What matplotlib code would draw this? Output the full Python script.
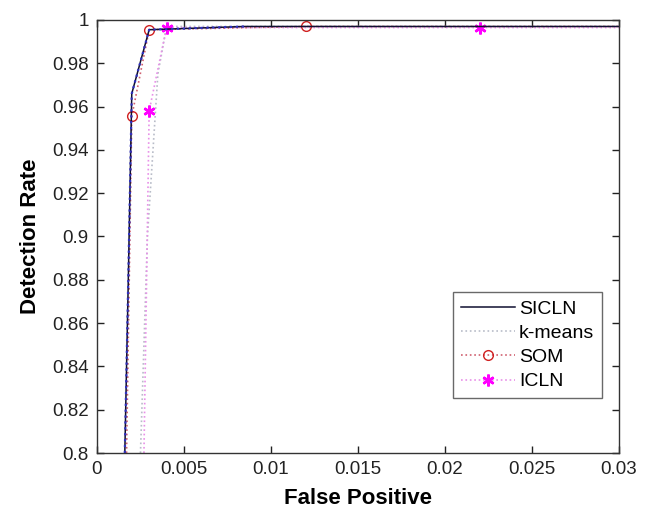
import matplotlib
matplotlib.use("Agg")
import matplotlib.pyplot as plt

plt.rcParams['font.family'] = ['Liberation Sans', 'DejaVu Sans']

# ROC-style curves: false positive rate vs detection rate
sicln_fp = [0.0016, 0.0018, 0.0020, 0.0030, 0.0085, 0.0300]
sicln_dr = [0.800, 0.880, 0.966, 0.9955, 0.997, 0.997]

kmeans_fp = [0.0025, 0.0029, 0.0035, 0.0040, 0.0300]
kmeans_dr = [0.800, 0.900, 0.975, 0.997, 0.997]

som_fp = [0.0017, 0.0020, 0.0030, 0.0120, 0.0300]
som_dr = [0.800, 0.9555, 0.9955, 0.997, 0.997]
som_marks = [1, 2, 3]

icln_fp = [0.0027, 0.0030, 0.0040, 0.0220, 0.0300]
icln_dr = [0.800, 0.958, 0.9965, 0.9965, 0.9965]
icln_marks = [1, 2, 3]

xticks = [0, 0.005, 0.01, 0.015, 0.02, 0.025, 0.03]
xticklabels = ['0', '0.005', '0.01', '0.015', '0.02', '0.025', '0.03']
yticks = [0.8, 0.82, 0.84, 0.86, 0.88, 0.9, 0.92, 0.94, 0.96, 0.98, 1.0]
yticklabels = ['0.8', '0.82', '0.84', '0.86', '0.88', '0.9', '0.92', '0.94', '0.96', '0.98', '1']

fig = plt.figure(figsize=(6.66, 5.12), dpi=100)
ax = fig.add_axes([0.1456, 0.1152, 0.7838, 0.8458])

asterisk = (6, 2, 0)

ax.plot(kmeans_fp, kmeans_dr, ':', color='#b8bcc8', lw=1.2, label='k-means')
ax.plot(icln_fp, icln_dr, ':', color='#e890e8', lw=1.2, marker=asterisk,
        markevery=icln_marks, ms=8.5, mew=1.8, mec='#ff00ff', mfc='#ff00ff',
        label='ICLN')
ax.plot(som_fp, som_dr, ':', color='#d06070', lw=1.2, marker='o',
        markevery=som_marks, ms=7, mew=1.0, mec='#d02020', mfc='none',
        label='SOM')
ax.plot(sicln_fp, sicln_dr, '-', color='#101030', lw=1.1, label='SICLN')
ax.plot(sicln_fp[:5], sicln_dr[:5], ':', color='#3030c0', lw=1.6)

ax.set_xlim(0, 0.03)
ax.set_ylim(0.8, 1.0)
ax.set_xticks(xticks)
ax.set_xticklabels(xticklabels)
ax.set_yticks(yticks)
ax.set_yticklabels(yticklabels)
ax.tick_params(direction='in', top=True, right=True, length=5, width=1,
               labelsize=13.5, colors='#222222', pad=6)
for s in ax.spines.values():
    s.set_color('#333333')
    s.set_linewidth(1.0)

ax.set_xlabel('False Positive', fontsize=16, fontweight='bold', labelpad=7)
ax.set_ylabel('Detection Rate', fontsize=16, fontweight='bold', labelpad=8)

handles, labels = ax.get_legend_handles_labels()
order = ['SICLN', 'k-means', 'SOM', 'ICLN']
hmap = dict(zip(labels, handles))
leg = ax.legend([hmap[k] for k in order], order, loc='lower right',
                bbox_to_anchor=(0.986, 0.104), fontsize=14, frameon=True,
                fancybox=False, edgecolor='#444444', handlelength=2.8,
                handletextpad=0.2, borderpad=0.4, labelspacing=0.34)
leg.get_frame().set_linewidth(1.0)

fig.savefig('out.png', dpi=100, facecolor='white')
